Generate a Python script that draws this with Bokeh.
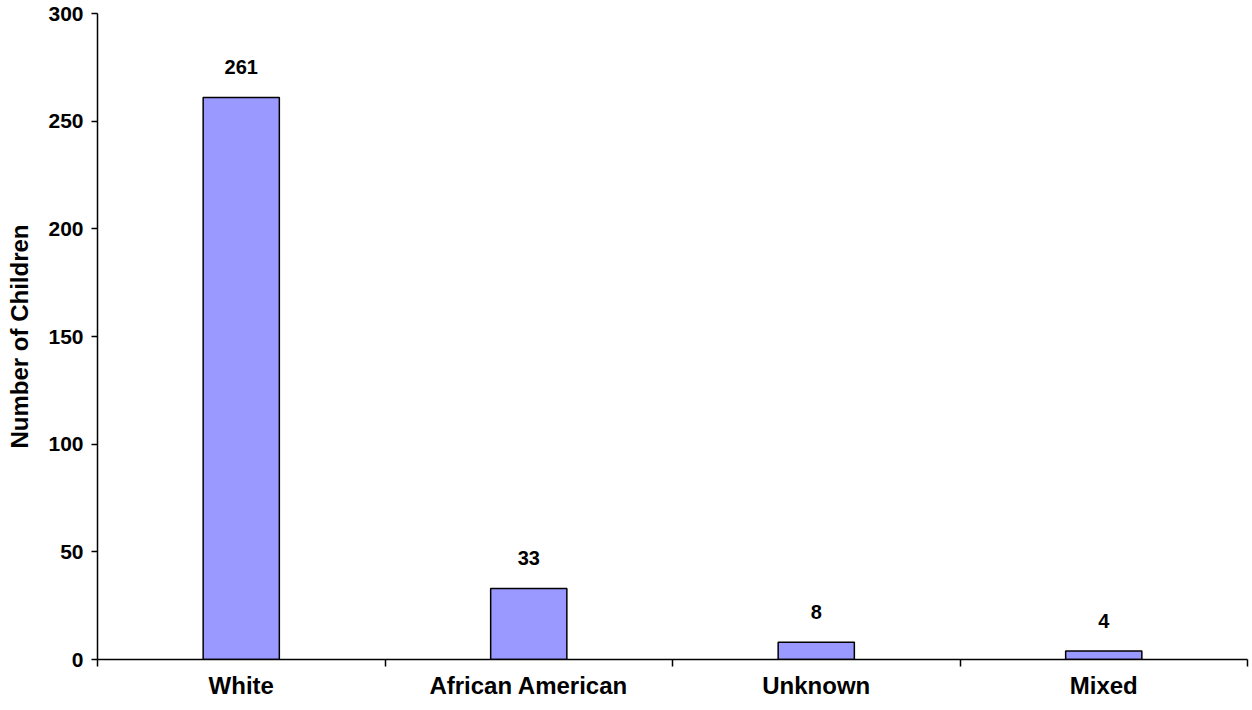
from bokeh.plotting import figure
from bokeh.models import ColumnDataSource, FixedTicker, Range1d, LabelSet
from bokeh.core.properties import value
from bokeh.embed import file_html
from bokeh.resources import INLINE

categories = ["White", "African American", "Unknown", "Mixed"]
counts = [261, 33, 8, 4]
y_ticks = [0, 50, 100, 150, 200, 250, 300]

xs = [i + 0.5 for i in range(len(categories))]
src = ColumnDataSource(dict(x=xs, top=counts, label=[str(c) for c in counts]))

FONT = "Liberation Sans"

p = figure(width=1250, height=705, output_backend="svg", toolbar_location=None,
           x_range=Range1d(0, len(categories)), y_range=Range1d(0, 300),
           min_border_left=97, min_border_right=3, min_border_top=13, min_border_bottom=46)
p.outline_line_color = None
p.xgrid.visible = False
p.ygrid.visible = False
p.background_fill_color = "white"

p.vbar(x="x", top="top", width=0.265, bottom=0, source=src,
       fill_color="#9999FF", line_color="black", line_width=1.5)

labels = LabelSet(x="x", y="top", text="label", source=src, text_align="center",
                  text_baseline="bottom", y_offset=23, text_font=value(FONT),
                  text_font_style="bold", text_font_size="20px", text_color="black")
p.add_layout(labels)

xt = FixedTicker(ticks=xs, minor_ticks=list(range(len(categories) + 1)))
p.xaxis.ticker = xt
p.xaxis.major_label_overrides = {x: c for x, c in zip(xs, categories)}
p.xaxis.major_tick_line_color = None
p.xaxis.minor_tick_out = 7
p.xaxis.minor_tick_in = 0
p.xaxis.minor_tick_line_color = "black"
p.xaxis.minor_tick_line_width = 1.5
p.xaxis.axis_line_width = 1.5
p.xaxis.major_label_text_font = FONT
p.xaxis.major_label_text_font_style = "bold"
p.xaxis.major_label_text_font_size = "24px"
p.xaxis.major_label_text_color = "black"
p.xaxis.major_label_standoff = 5

p.yaxis.ticker = FixedTicker(ticks=y_ticks)
p.yaxis.minor_tick_line_color = None
p.yaxis.major_tick_out = 6
p.yaxis.major_tick_in = 0
p.yaxis.major_tick_line_width = 1.5
p.yaxis.axis_line_width = 1.5
p.yaxis.major_label_text_font = FONT
p.yaxis.major_label_text_font_style = "bold"
p.yaxis.major_label_text_font_size = "21px"
p.yaxis.major_label_text_color = "black"
p.yaxis.major_label_standoff = 8
p.yaxis.axis_label = "Number of Children"
p.yaxis.axis_label_text_font = FONT
p.yaxis.axis_label_text_font_style = "bold"
p.yaxis.axis_label_text_font_size = "24px"
p.yaxis.axis_label_text_color = "black"
p.yaxis.axis_label_standoff = 12

open("out.html", "w").write(file_html(p, INLINE))
